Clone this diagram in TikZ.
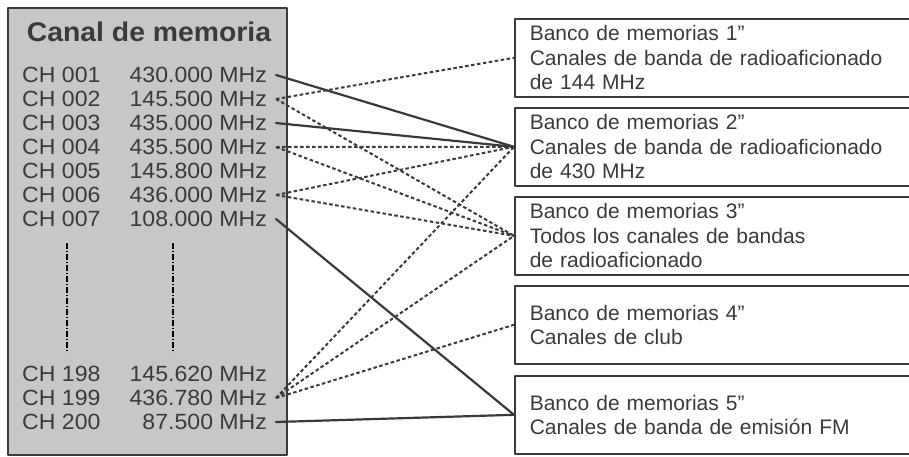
\documentclass[tikz,border=0pt]{standalone}
\usepackage{fontspec}
\setmainfont{Liberation Sans}
\newfontfamily\panelfont[FakeStretch=1.05]{Liberation Sans}
\definecolor{panelgray}{RGB}{198,199,200}
\definecolor{inkgray}{RGB}{58,58,58}
\tikzset{
  chlabel/.style={anchor=west,inner sep=0pt,text=inkgray,font=\panelfont\fontsize{22}{24}\selectfont},
  freq/.style={anchor=east,inner ysep=0pt,inner xsep=4.5pt,outer xsep=4.5pt,text=inkgray,font=\panelfont\fontsize{22}{24}\selectfont},
  bank/.style={draw=inkgray,line width=1.6pt,anchor=north west,minimum width=400pt,minimum height=78pt,
    text width=370pt,inner xsep=13pt,align=left,text=inkgray,font=\fontsize{21}{24.5}\selectfont},
  solidlink/.style={inkgray,line width=2.2pt},
  dotlink/.style={inkgray,line width=2pt,line cap=butt,dash pattern=on 3.5pt off 2.5pt},
  gapmark/.style={black,line width=2.2pt,line cap=butt,dash pattern=on 6pt off 2pt on 1pt off 2pt}
}
\begin{document}
\begin{tikzpicture}[line cap=round,line join=round,x=1pt,y=-1pt]
\useasboundingbox (0,0) rectangle (909,456);
% channel list
\draw[fill=panelgray,draw=inkgray,line width=1.5pt] (8,8) rectangle (287,455);
\node[inner sep=0pt,text=inkgray,font=\panelfont\bfseries\fontsize{27}{30}\selectfont] (title) at (149,31.5) {Canal de memoria};
\node[chlabel] (ch001) at (22,75) {CH 001};
\node[freq] (f001) at (276,75) {430.000 MHz};
\node[chlabel] (ch002) at (22,99) {CH 002};
\node[freq] (f002) at (276,99) {145.500 MHz};
\node[chlabel] (ch003) at (22,123) {CH 003};
\node[freq] (f003) at (276,123) {435.000 MHz};
\node[chlabel] (ch004) at (22,147) {CH 004};
\node[freq] (f004) at (276,147) {435.500 MHz};
\node[chlabel] (ch005) at (22,171) {CH 005};
\node[freq] (f005) at (276,171) {145.800 MHz};
\node[chlabel] (ch006) at (22,195) {CH 006};
\node[freq] (f006) at (276,195) {436.000 MHz};
\node[chlabel] (ch007) at (22,219) {CH 007};
\node[freq] (f007) at (276,219) {108.000 MHz};
\draw[gapmark] (67,243) -- (67,353);
\draw[gapmark] (173,243) -- (173,353);
\node[chlabel] (ch198) at (22,374) {CH 198};
\node[freq] (f198) at (276,374) {145.620 MHz};
\node[chlabel] (ch199) at (22,398) {CH 199};
\node[freq] (f199) at (276,398) {436.780 MHz};
\node[chlabel] (ch200) at (22,422) {CH 200};
\node[freq] (f200) at (276,422) {87.500 MHz};
% memory banks
\node[bank] (b1) at (514,18) {Banco de memorias 1”\\Canales de banda de radioaficionado\\de 144 MHz};
\node[bank] (b2) at (514,107) {Banco de memorias 2”\\Canales de banda de radioaficionado\\de 430 MHz};
\node[bank] (b3) at (514,196) {Banco de memorias 3”\\Todos los canales de bandas\\de radioaficionado};
\node[bank] (b4) at (514,285) {Banco de memorias 4”\\Canales de club};
\node[bank] (b5) at (514,375) {Banco de memorias 5”\\Canales de banda de emisión FM};
% links
\draw[solidlink] (f001.east) -- (b2.west);
\draw[solidlink] (f003.east) -- (b2.west);
\draw[solidlink] (f007.east) -- (b5.west);
\draw[solidlink] (f200.east) -- (b5.west);
\draw[dotlink] (f002.east) -- (b1.west);
\draw[dotlink] (f002.east) -- (b3.west);
\draw[dotlink] (f004.east) -- (b2.west);
\draw[dotlink] (f004.east) -- (b3.west);
\draw[dotlink] (f006.east) -- (b2.west);
\draw[dotlink] (f006.east) -- (b3.west);
\draw[dotlink] (f199.east) -- (b2.west);
\draw[dotlink] (f199.east) -- (b3.west);
\draw[dotlink] (f199.east) -- (b4.west);
\end{tikzpicture}
\end{document}
